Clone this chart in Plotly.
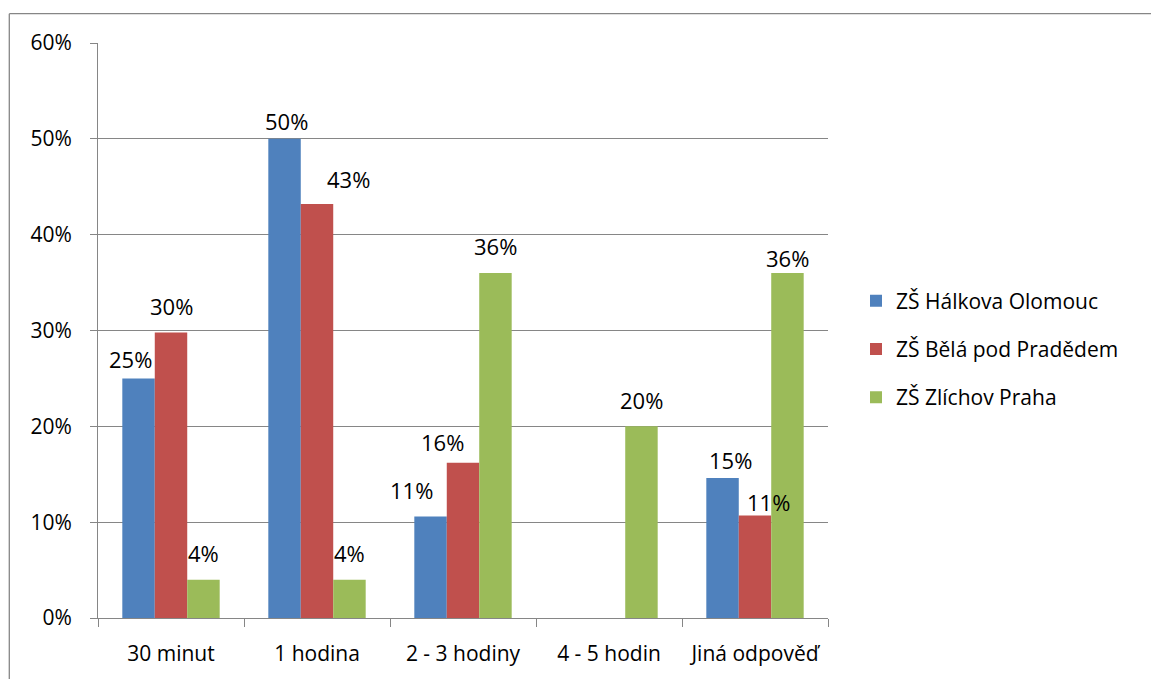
import plotly.graph_objects as go

# Survey answers: share of pupils per school and category
categories = ["30 minut", "1 hodina", "2 - 3 hodiny", "4 - 5 hodin", "Jiná odpověď"]
series_names = ["ZŠ Hálkova Olomouc", "ZŠ Bělá pod Pradědem", "ZŠ Zlíchov Praha"]
halkova = [0.25, 0.50, 0.106, None, 0.146]
bela = [0.298, 0.432, 0.162, None, 0.107]
zlichov = [0.04, 0.04, 0.36, 0.20, 0.36]
y_ticks = [0.0, 0.1, 0.2, 0.3, 0.4, 0.5, 0.6]

colors = ["#4F81BD", "#C0504D", "#9BBB59"]
FONT = "Open Sans"
GRID = "#868686"

W, H = 1151, 679
M_L, M_R, M_T, M_B = 98, 323, 43, 61
PW, PH = W - M_L - M_R, H - M_T - M_B

# label placement tweaks (pixels): (horizontal nudge, lift above bar top)
label_nudge = [
    [(-8, 19), (2, 18), (-19, 26), None, (8, 18)],
    [(0, 26), (31, 25), (-21, 21), None, (13, 13)],
    [(0, 27), (0, 27), (0, 27), (0, 26), (0, 15)],
]
BAR_PX = PW / len(categories) * (1 - 0.333) / 3

fig = go.Figure()
all_series = [halkova, bela, zlichov]
for name, vals, col in zip(series_names, all_series, colors):
    fig.add_trace(go.Bar(
        x=categories, y=vals, name=name,
        marker=dict(color=col, line=dict(width=0)),
        legendgroup=name,
    ))

annotations = []
for i, vals in enumerate(all_series):
    for j, v in enumerate(vals):
        if v is None:
            continue
        dx, lift = label_nudge[i][j]
        annotations.append(dict(
            x=categories[j], y=v, xref="x", yref="y",
            text=f"{v:.0%}", showarrow=False,
            xshift=(i - 1) * BAR_PX + dx, yshift=lift,
            yanchor="middle", xanchor="center",
            font=dict(family=FONT, size=22, color="#000000"),
        ))


def px_to_paper_x(px):
    return (px - M_L) / PW


def px_to_paper_y(py):
    return (H - M_B - py) / PH


# outer chart frame (left and top edges)
frame_left, frame_top = 9.3, 13.7
shapes = [
    dict(type="line", xref="paper", yref="paper",
         x0=px_to_paper_x(frame_left), x1=px_to_paper_x(W + 5),
         y0=px_to_paper_y(frame_top), y1=px_to_paper_y(frame_top),
         line=dict(color=GRID, width=1.3)),
    dict(type="line", xref="paper", yref="paper",
         x0=px_to_paper_x(frame_left), x1=px_to_paper_x(frame_left),
         y0=px_to_paper_y(frame_top), y1=px_to_paper_y(H + 5),
         line=dict(color=GRID, width=1.3)),
]

fig.update_layout(
    width=W, height=H,
    margin=dict(l=M_L, r=M_R, t=M_T, b=M_B, pad=0),
    paper_bgcolor="white", plot_bgcolor="white",
    barmode="group", bargap=0.333, bargroupgap=0,
    font=dict(family=FONT, size=22, color="#000000"),
    showlegend=True,
    legend=dict(
        x=px_to_paper_x(856), y=px_to_paper_y(349),
        xanchor="left", yanchor="middle",
        font=dict(family=FONT, size=21, color="#000000"),
        traceorder="grouped", tracegroupgap=18,
        bgcolor="rgba(0,0,0,0)", itemclick=False,
    ),
    annotations=annotations,
    shapes=shapes,
)
fig.update_xaxes(
    type="category", showgrid=False,
    showline=True, linecolor=GRID, linewidth=1,
    ticks="outside", tickson="boundaries", ticklen=8, tickcolor=GRID,
    ticklabelstandoff=17,
    tickfont=dict(family=FONT, size=21),
)
fig.update_yaxes(
    range=[0, 0.6], tickvals=y_ticks, tickformat=".0%",
    showgrid=True, gridcolor=GRID, gridwidth=1,
    showline=True, linecolor=GRID, linewidth=1,
    ticks="outside", ticklen=7, tickcolor=GRID,
    ticklabelstandoff=14, zeroline=False,
    tickfont=dict(family=FONT, size=21),
)

fig.write_html("out.html", include_plotlyjs=True, config={"displayModeBar": False})
